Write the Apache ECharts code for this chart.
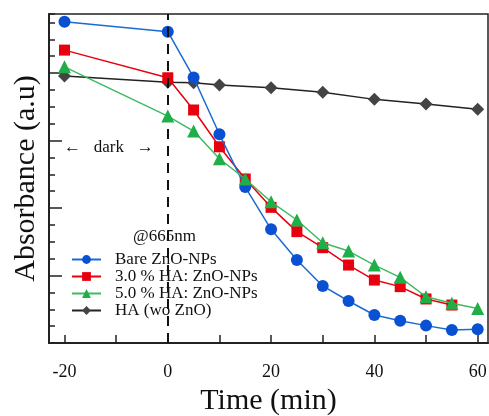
<!DOCTYPE html>
<html><head><meta charset="utf-8">
<script src="https://cdn.jsdelivr.net/npm/echarts@6/dist/echarts.min.js"></script>
<style>html,body{margin:0;padding:0;background:#fff}#c{width:489px;height:416px}</style>
</head><body><div id="c"></div>
<script>
const timeBare = [-20, 0, 5, 10, 15, 20, 25, 30, 35, 40, 45, 50, 55, 60];
const bare = [19.04, 18.45, 15.74, 12.37, 9.24, 6.74, 4.92, 3.38, 2.49, 1.66, 1.32, 1.03, 0.77, 0.81];
const timeHA3 = [-20, 0, 5, 10, 15, 20, 25, 30, 35, 40, 45, 50, 55];
const ha3 = [17.36, 15.72, 13.81, 11.63, 9.72, 8.04, 6.6, 5.65, 4.62, 3.73, 3.34, 2.61, 2.25];
const timeHA5 = [-20, 0, 5, 10, 15, 20, 25, 30, 35, 40, 45, 50, 55, 60];
const ha5 = [16.37, 13.45, 12.56, 10.92, 9.72, 8.37, 7.29, 5.94, 5.45, 4.62, 3.89, 2.74, 2.35, 2.05];
const timeHA = [-20, 0, 5, 10, 20, 30, 40, 50, 60];
const haOnly = [15.82, 15.45, 15.43, 15.29, 15.13, 14.86, 14.44, 14.16, 13.85];
const xLabels = [-20, 0, 20, 40, 60];
const xTicks = [-20, -10, 0, 10, 20, 30, 40, 50, 60];
const names = ['Bare ZnO-NPs', '3.0 % HA: ZnO-NPs', '5.0 % HA: ZnO-NPs', 'HA (wo ZnO)'];

const zip = (xs, ys) => xs.map((x, i) => [x, ys[i]]);
const font = '"Liberation Serif","Times New Roman",serif';
const chart = echarts.init(document.getElementById('c'));
chart.setOption({
  animation: false,
  grid: {left: 49, right: 1, top: 14, bottom: 73, show: true, borderColor: '#222', borderWidth: 1.5,
         containLabel: false, outerBoundsMode: 'none'},
  xAxis: {
    type: 'value', min: -23, max: 62,
    name: 'Time (min)', nameLocation: 'middle', nameGap: 42,
    nameTextStyle: {fontFamily: font, fontSize: 30, color: '#111'},
    axisLine: {onZero: false, lineStyle: {color: '#222', width: 2}},
    axisTick: {inside: true, length: 8, customValues: xTicks, lineStyle: {color: '#222', width: 1.5}},
    axisLabel: {customValues: xLabels, margin: 20, fontFamily: font, fontSize: 18, color: '#111'},
    splitLine: {show: false}
  },
  yAxis: [{
    type: 'value', min: 0, max: 19.5, interval: 1,
    name: 'Absorbance (a.u)', nameLocation: 'middle', nameGap: 8,
    nameTextStyle: {fontFamily: font, fontSize: 30, color: '#111'},
    axisLine: {onZero: false, lineStyle: {color: '#222', width: 2}},
    axisTick: {inside: true, length: 6, lineStyle: {color: '#222', width: 1.5}},
    axisLabel: {show: false},
    splitLine: {show: false}
  }, {
    type: 'value', min: 0, max: 19.5, position: 'left',
    axisLine: {show: false, onZero: false},
    axisTick: {show: true, inside: true, length: 13, customValues: [4, 8, 12, 16], lineStyle: {color: '#222', width: 1.5}},
    axisLabel: {show: false},
    splitLine: {show: false}
  }],
  legend: {
    orient: 'vertical', left: 66, top: 246, itemWidth: 29, itemHeight: 11, itemGap: 0,
    data: names,
    textStyle: {fontFamily: font, fontSize: 17, color: '#111', padding: [0, 0, 0, 9]}
  },
  graphic: [
    {type: 'text', left: 133, top: 228, style: {text: '@665nm', font: '17px "Liberation Serif", serif', fill: '#111'}},
    {type: 'text', left: 64, top: 139, style: {text: '\u2190   dark   \u2192', font: '17px "Liberation Serif", serif', fill: '#111'}}
  ],
  series: [
    {name: names[0], type: 'line', data: zip(timeBare, bare), symbol: 'circle', symbolSize: 12,
     itemStyle: {color: '#0a50d2'}, lineStyle: {color: '#1a6cd0', width: 1.5}, z: 4,
     markLine: {silent: true, symbol: 'none', label: {show: false},
       lineStyle: {color: '#111', type: [10, 7], width: 2}, data: [{xAxis: 0}]}},
    {name: names[1], type: 'line', data: zip(timeHA3, ha3), symbol: 'rect', symbolSize: 11,
     itemStyle: {color: '#e8000e'}, lineStyle: {color: '#e8000e', width: 1.5}, z: 3},
    {name: names[2], type: 'line', data: zip(timeHA5, ha5), symbol: 'triangle', symbolSize: 13,
     itemStyle: {color: '#1fae47'}, lineStyle: {color: '#3dbb60', width: 1.5}, z: 5},
    {name: names[3], type: 'line', data: zip(timeHA, haOnly), symbol: 'diamond', symbolSize: 13,
     itemStyle: {color: '#444'}, lineStyle: {color: '#222', width: 1.5}, z: 2}
  ]
});
</script></body></html>
